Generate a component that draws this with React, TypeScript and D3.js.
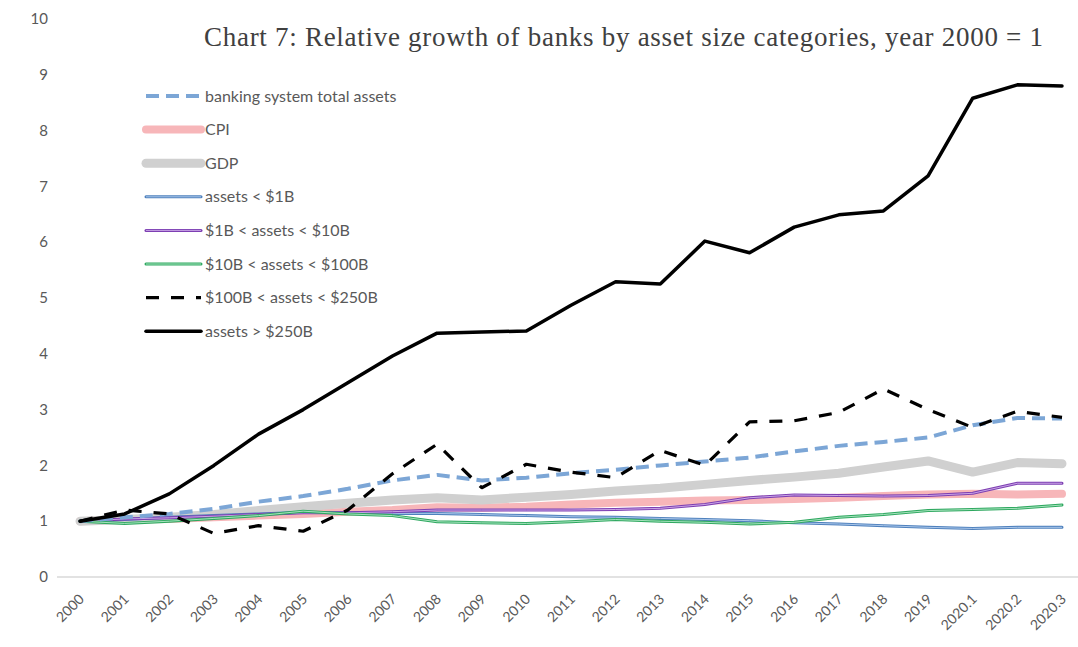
import React from "react";
import * as d3 from "d3";

const categories = ["2000","2001","2002","2003","2004","2005","2006","2007","2008","2009","2010","2011","2012","2013","2014","2015","2016","2017","2018","2019","2020.1","2020.2","2020.3"];
const yTicks = [0,1,2,3,4,5,6,7,8,9,10];

const bankingTotal = [1.0,1.07,1.13,1.22,1.35,1.45,1.58,1.73,1.83,1.73,1.78,1.86,1.92,2.0,2.07,2.14,2.25,2.35,2.42,2.5,2.72,2.85,2.84];
const cpi = [1.0,1.03,1.04,1.07,1.1,1.13,1.17,1.2,1.25,1.24,1.26,1.3,1.33,1.35,1.37,1.38,1.4,1.42,1.45,1.48,1.49,1.48,1.49];
const gdp = [1.0,1.03,1.07,1.12,1.19,1.26,1.32,1.38,1.42,1.38,1.43,1.48,1.54,1.59,1.66,1.73,1.79,1.86,1.97,2.08,1.88,2.05,2.03];
const under1B = [1.0,1.03,1.07,1.1,1.13,1.16,1.15,1.14,1.14,1.12,1.1,1.08,1.07,1.05,1.03,1.01,0.97,0.95,0.92,0.89,0.87,0.89,0.89];
const b1to10 = [1.0,1.04,1.06,1.09,1.12,1.15,1.15,1.17,1.2,1.2,1.2,1.2,1.21,1.23,1.3,1.42,1.47,1.46,1.45,1.46,1.5,1.68,1.68];
const b10to100 = [1.0,0.96,1.0,1.05,1.1,1.18,1.13,1.1,0.99,0.97,0.96,0.99,1.03,1.0,0.98,0.95,0.98,1.07,1.12,1.19,1.21,1.23,1.29];
const b100to250 = [1.0,1.2,1.13,0.78,0.92,0.82,1.2,1.85,2.38,1.6,2.02,1.88,1.78,2.27,2.0,2.78,2.8,2.95,3.37,3.0,2.68,2.97,2.86];
const over250B = [1.0,1.13,1.49,2.0,2.56,3.0,3.48,3.96,4.37,4.39,4.41,4.87,5.29,5.25,6.02,5.81,6.27,6.49,6.56,7.19,8.58,8.82,8.8];

const title = "Chart 7: Relative growth of banks by asset size categories, year 2000 = 1";

type Style = { color: string; width: number; dash?: string; inner?: string; innerWidth?: number };
const series: { name: string; values: number[]; style: Style }[] = [
  { name: "banking system total assets", values: bankingTotal, style: { color: "#7ca6d6", width: 4, dash: "13 7" } },
  { name: "CPI", values: cpi, style: { color: "#f7b6b9", width: 8 } },
  { name: "GDP", values: gdp, style: { color: "#d0d0d0", width: 9 } },
  { name: "assets < $1B", values: under1B, style: { color: "#4f81bd", width: 3, inner: "#a9c6ea", innerWidth: 1 } },
  { name: "$1B < assets  < $10B", values: b1to10, style: { color: "#7d3fb2", width: 3, inner: "#c9a5e6", innerWidth: 1 } },
  { name: "$10B < assets < $100B", values: b10to100, style: { color: "#2fa860", width: 3, inner: "#a6e3bd", innerWidth: 1 } },
  { name: "$100B < assets < $250B", values: b100to250, style: { color: "#000000", width: 3.2, dash: "13 12" } },
  { name: "assets > $250B", values: over250B, style: { color: "#000000", width: 3.5 } },
];

const drawOrder = [1, 2, 3, 4, 5, 0, 6, 7];

export default function App() {
  const W = 1078, H = 647;
  const x = d3.scalePoint<string>().domain(categories).range([80, 1062]);
  const y = d3.scaleLinear().domain([0, 10]).range([577, 19]);
  const line = d3.line<number>().x((_, i) => x(categories[i]) as number).y((v) => y(v));

  const legendX0 = 146, legendX1 = 204, legendY0 = 96, legendDy = 33.6;

  return (
    <svg width={W} height={H} style={{ position: "fixed", left: 0, top: 0, background: "#fff" }} fontFamily="Lato, 'Open Sans', sans-serif">
      <rect x={0} y={0} width={W} height={H} fill="#ffffff" />
      {yTicks.map((t) => (
        <text key={t} x={48} y={y(t)} dy="0.35em" textAnchor="end" fontSize={15} fill="#595959">{t}</text>
      ))}
      <line x1={57} x2={1078} y1={y(0)} y2={y(0)} stroke="#d9d9d9" strokeWidth={1.5} />
      {categories.map((c) => (
        <text key={c} transform={`translate(${(x(c) as number) + 5},${600}) rotate(-45)`} textAnchor="end" fontSize={14} fill="#595959">{c}</text>
      ))}
      <text x={204} y={46} textLength={839} lengthAdjust="spacing" fontFamily="'Liberation Serif', 'DejaVu Serif', serif" fontSize={27} fill="#404040">{title}</text>
      {drawOrder.map((idx) => {
        const s = series[idx];
        const d = line(s.values) || "";
        return (
          <g key={s.name}>
            <path d={d} fill="none" stroke={s.style.color} strokeWidth={s.style.width} strokeDasharray={s.style.dash} strokeLinejoin="round" strokeLinecap={s.style.dash ? "butt" : "round"} />
            {s.style.inner && (
              <path d={d} fill="none" stroke={s.style.inner} strokeWidth={s.style.innerWidth} strokeLinejoin="round" />
            )}
          </g>
        );
      })}
      {series.map((s, i) => {
        const ly = legendY0 + i * legendDy;
        return (
          <g key={s.name}>
            <line x1={legendX0} x2={legendX1 - 3} y1={ly} y2={ly} stroke={s.style.color} strokeWidth={s.style.width} strokeDasharray={s.style.dash} strokeLinecap={s.style.dash ? "butt" : "round"} />
            {s.style.inner && (
              <line x1={legendX0} x2={legendX1 - 3} y1={ly} y2={ly} stroke={s.style.inner} strokeWidth={s.style.innerWidth} />
            )}
            <text x={legendX1 + 1} y={ly} dy="0.35em" fontSize={16} fill="#595959">{s.name}</text>
          </g>
        );
      })}
    </svg>
  );
}
